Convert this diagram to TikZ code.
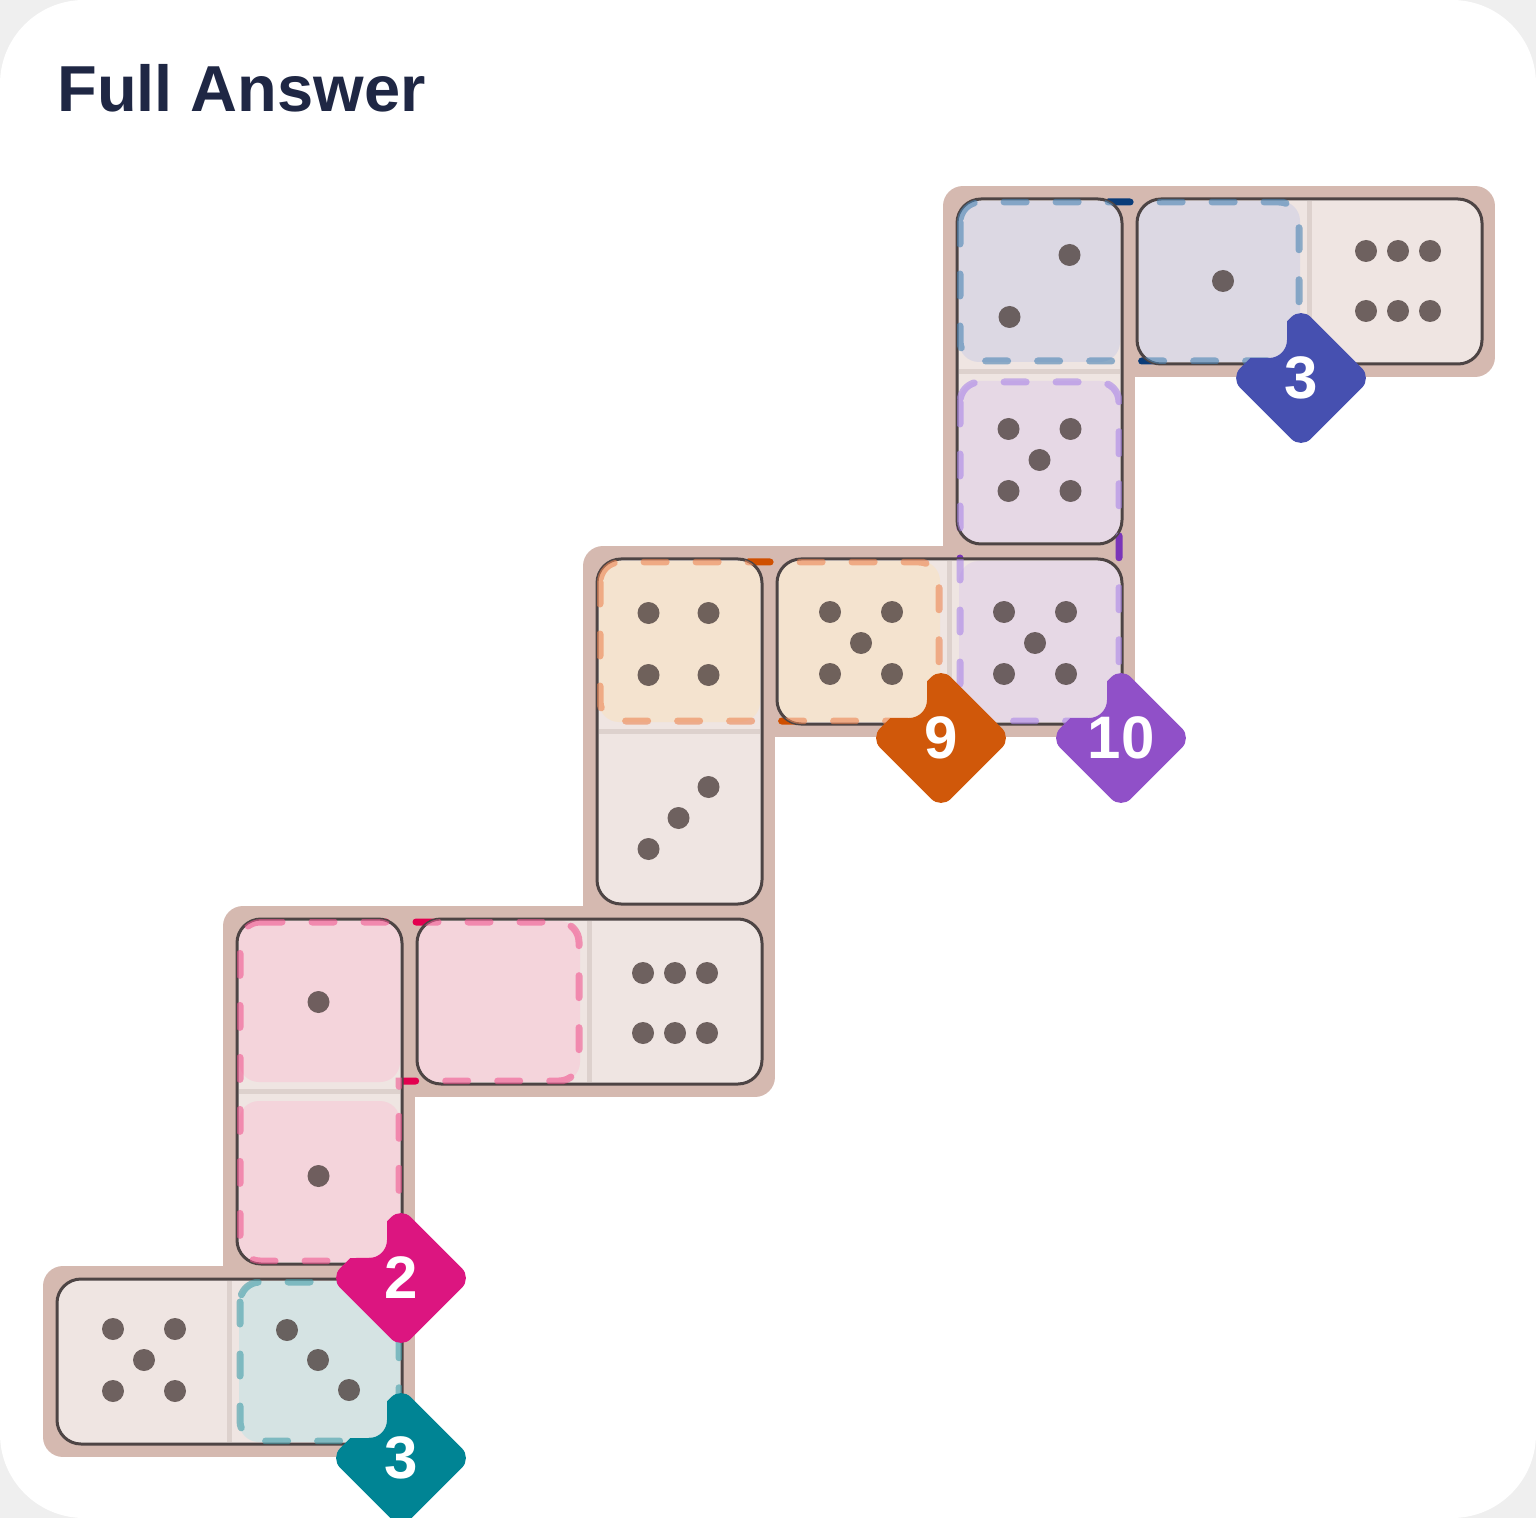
\documentclass[tikz,border=0pt]{standalone}
\usepackage{fontspec}
\setmainfont{Liberation Sans}
\usepackage{tikz}

\definecolor{cardgray}{HTML}{EFEFEF}
\definecolor{titleink}{HTML}{1F2744}
\definecolor{trayc}{HTML}{D5B9B0}
\definecolor{tilefill}{HTML}{EFE5E2}
\definecolor{tileline}{HTML}{4D4444}
\definecolor{splitc}{HTML}{DDD1CD}
\definecolor{pipc}{HTML}{4A3D3B}
% region colours: cell tint, dash in the gaps, dash over the tiles, badge
\definecolor{blueFill}{HTML}{DCD8E3}
\definecolor{blueDeep}{HTML}{0B3C78}
\definecolor{blueSoft}{HTML}{4A84B4}
\definecolor{blueBadge}{HTML}{4650B0}
\definecolor{orangeFill}{HTML}{F4E3CF}
\definecolor{orangeDeep}{HTML}{CF4F00}
\definecolor{orangeSoft}{HTML}{EC8553}
\definecolor{orangeBadge}{HTML}{D0580A}
\definecolor{purpleFill}{HTML}{E6D8E5}
\definecolor{purpleDeep}{HTML}{7A35B8}
\definecolor{purpleSoft}{HTML}{AA86E7}
\definecolor{purpleBadge}{HTML}{9050C8}
\definecolor{pinkFill}{HTML}{F4D4DB}
\definecolor{pinkDeep}{HTML}{E3004F}
\definecolor{pinkSoft}{HTML}{F05891}
\definecolor{pinkBadge}{HTML}{DC1580}
\definecolor{tealFill}{HTML}{D5E3E3}
\definecolor{tealDeep}{HTML}{00838F}
\definecolor{tealSoft}{HTML}{439DA9}
\definecolor{tealBadge}{HTML}{008494}

% pip offsets of each face
\def\pipsone{0/0}
\def\pipstwo{30/-31,-30/31}
\def\pipsthreeR{30/-31,0/0,-30/31}
\def\pipsthreeL{-31/-30,0/0,31/30}
\def\pipsfour{-30/-31,30/-31,-30/31,30/31}
\def\pipsfive{-31/-31,31/-31,0/0,-31/31,31/31}
\def\pipssix{-32/-30,0/-30,32/-30,-32/30,0/30,32/30}
\newcommand{\pipface}[3]{\foreach \px/\py in #3 {\fill[pip] ([shift={(#1,#2)}]\px,\py) circle[radius=5.5pt];}}

% dashed outlines of the regions
\newcommand{\blueRing}{[rounded corners=10pt] (960,202) rectangle (1299,361)}
\newcommand{\orangeRing}{[rounded corners=10pt] (600,562) rectangle (939,721)}
\newcommand{\purpleRing}{[rounded corners=10pt] (960,382) rectangle (1119,721)}
\newcommand{\pinkRing}{(260,922) -- (559,922) .. controls (570,922) and (579,931) .. (579,942)
  -- (579,1061) .. controls (579,1072) and (570,1081) .. (559,1081) -- (399,1081)
  -- (399,1241) .. controls (399,1252) and (390,1261) .. (379,1261) -- (260,1261)
  .. controls (249,1261) and (240,1252) .. (240,1241) -- (240,942)
  .. controls (240,931) and (249,922) .. (260,922) -- cycle}
\newcommand{\tealRing}{[rounded corners=10pt] (240,1282) rectangle (399,1441)}

% area round a badge, less the corner of its cell: #1,#2 badge centre
\newcommand{\badgeclip}[2]{%
  \clip (#1-90,#2-90) -- (#1+90,#2-90) -- (#1+90,#2+90) -- (#1-90,#2+90) -- cycle
        (#1-240,#2-240) -- (#1-240,#2-20) -- (#1-14,#2-20) -- (#1-14,#2-240) -- cycle;}

\tikzset{
  tilebody/.style={fill=tilefill, rounded corners=12pt},
  tileedge/.style={draw=tileline, line width=1.5pt, rounded corners=12pt},
  split/.style={draw=splitc, line width=2.5pt},
  cellmask/.style={rounded corners=10pt},
  ring/.style={line width=3.5pt, line cap=round, dash pattern=on 11pt off 15pt},
  pip/.style={fill=pipc, fill opacity=0.78},
  badge/.style={rectangle, rotate=45, minimum size=50pt, inner sep=0pt, rounded corners=7pt},
  badgenum/.style={text=white, inner sep=0pt, font=\fontsize{30pt}{30pt}\selectfont\bfseries},
}

\begin{document}
\begin{tikzpicture}[x=0.5pt, y=-0.5pt]
\useasboundingbox (0,0) rectangle (1536,1518);

% Card
\fill[cardgray] (0,0) rectangle (1536,1518);
\fill[white, rounded corners=42pt] (0,0) rectangle (1536,1518);

% Title
\node[anchor=base west, inner sep=0pt, text=titleink, font=\fontsize{32.5pt}{39pt}\selectfont\bfseries] (title) at (57,112) {Full Answer};

% Tray under the chain of tiles
\filldraw[trayc, line width=20pt, line join=round]
  (963,206) -- (1475,206) -- (1475,357) -- (1115,357) -- (1115,717) -- (755,717)
  -- (755,1077) -- (395,1077) -- (395,1437) -- (63,1437) -- (63,1286) -- (243,1286)
  -- (243,926) -- (603,926) -- (603,566) -- (963,566) -- cycle;

% Region outlines, seen in the gaps between tiles
\draw[ring, draw=blueDeep] \blueRing;
\draw[ring, draw=orangeDeep] \orangeRing;
\draw[ring, draw=purpleDeep] \purpleRing;
\draw[ring, draw=pinkDeep] \pinkRing;
\draw[ring, draw=tealDeep] \tealRing;

% Tiles
\fill[tilebody] (957,199) rectangle (1122,544);
\fill[tilebody] (1137,199) rectangle (1482,364);
\fill[tilebody] (597,559) rectangle (762,904);
\fill[tilebody] (777,559) rectangle (1122,724);
\fill[tilebody] (237,919) rectangle (402,1264);
\fill[tilebody] (417,919) rectangle (762,1084);
\fill[tilebody] (57,1279) rectangle (402,1444);

% Middle lines of the tiles
\draw[split] (959,371.5) -- (1120,371.5);
\draw[split] (1309.5,201) -- (1309.5,362);
\draw[split] (599,731.5) -- (760,731.5);
\draw[split] (949.5,561) -- (949.5,722);
\draw[split] (239,1091.5) -- (400,1091.5);
\draw[split] (589.5,921) -- (589.5,1082);
\draw[split] (229.5,1281) -- (229.5,1442);

% Region cells
\fill[cellmask, blueFill] (959,201) rectangle (1120,362);
\fill[cellmask, blueFill] (1139,201) rectangle (1300,362);
\fill[cellmask, purpleFill] (959,381) rectangle (1120,542);
\fill[cellmask, purpleFill] (959,561) rectangle (1120,722);
\fill[cellmask, orangeFill] (599,561) rectangle (760,722);
\fill[cellmask, orangeFill] (779,561) rectangle (940,722);
\fill[cellmask, pinkFill] (239,921) rectangle (400,1082);
\fill[cellmask, pinkFill] (239,1101) rectangle (400,1262);
\fill[cellmask, pinkFill] (419,921) rectangle (580,1082);
\fill[cellmask, tealFill] (239,1281) rectangle (400,1442);

% Tile borders
\draw[tileedge] (957,199) rectangle (1122,544);
\draw[tileedge] (1137,199) rectangle (1482,364);
\draw[tileedge] (597,559) rectangle (762,904);
\draw[tileedge] (777,559) rectangle (1122,724);
\draw[tileedge] (237,919) rectangle (402,1264);
\draw[tileedge] (417,919) rectangle (762,1084);
\draw[tileedge] (57,1279) rectangle (402,1444);

% Region outlines over the tiles
\begin{scope}
\clip[rounded corners=12pt] (957,199) rectangle (1122,544) (1137,199) rectangle (1482,364)
  (597,559) rectangle (762,904) (777,559) rectangle (1122,724) (237,919) rectangle (402,1264)
  (417,919) rectangle (762,1084) (57,1279) rectangle (402,1444);
\draw[ring, draw=blueSoft, draw opacity=0.6] \blueRing;
\draw[ring, draw=orangeSoft, draw opacity=0.6] \orangeRing;
\draw[ring, draw=purpleSoft, draw opacity=0.6] \purpleRing;
\draw[ring, draw=pinkSoft, draw opacity=0.6] \pinkRing;
\draw[ring, draw=tealSoft, draw opacity=0.6] \tealRing;
\end{scope}

% Pips
\pipface{1039.5}{286}{\pipstwo}
\pipface{1039.5}{460}{\pipsfive}
\pipface{1223}{281}{\pipsone}
\pipface{1398}{281}{\pipssix}
\pipface{678.5}{644}{\pipsfour}
\pipface{678.5}{818}{\pipsthreeR}
\pipface{861}{643}{\pipsfive}
\pipface{1035}{643}{\pipsfive}
\pipface{318.5}{1002}{\pipsone}
\pipface{318.5}{1176}{\pipsone}
\pipface{675}{1003}{\pipssix}
\pipface{144}{1360}{\pipsfive}
\pipface{318}{1360}{\pipsthreeL}

% Region badges
\begin{scope}[rounded corners=9pt]
\badgeclip{1301}{378}
\node[badge, fill=blueBadge] (badgeBlue) at (1301,378) {};
\end{scope}
\node[badgenum] (sumBlue) at (badgeBlue) {3};

\begin{scope}[rounded corners=9pt]
\badgeclip{941}{738}
\node[badge, fill=orangeBadge] (badgeOrange) at (941,738) {};
\end{scope}
\node[badgenum] (sumOrange) at (badgeOrange) {9};

\begin{scope}[rounded corners=9pt]
\badgeclip{1121}{738}
\node[badge, fill=purpleBadge] (badgePurple) at (1121,738) {};
\end{scope}
\node[badgenum] (sumPurple) at (badgePurple) {10};

\begin{scope}[rounded corners=9pt]
\badgeclip{401}{1278}
\node[badge, fill=pinkBadge] (badgePink) at (401,1278) {};
\end{scope}
\node[badgenum] (sumPink) at (badgePink) {2};

\begin{scope}[rounded corners=9pt]
\badgeclip{401}{1458}
\node[badge, fill=tealBadge] (badgeTeal) at (401,1458) {};
\end{scope}
\node[badgenum] (sumTeal) at (badgeTeal) {3};
\end{tikzpicture}
\end{document}
